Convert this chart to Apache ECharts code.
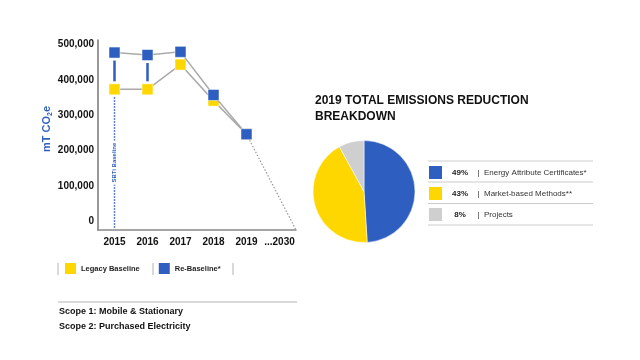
<!DOCTYPE html>
<html><head><meta charset="utf-8">
<script src="https://cdn.jsdelivr.net/npm/echarts@6/dist/echarts.min.js"></script>
<style>html,body{margin:0;padding:0;background:#fff}#c{width:640px;height:360px}</style>
</head><body><div id="c"></div>
<script>
const years = ['2015', '2016', '2017', '2018', '2019', '...2030'];
const legacyBaseline = [373000, 373000, 443000, 341000, 246000];
const reBaseline = [477000, 470000, 479000, 357000, 246000];
const projection = [[4, 246000], [5.5, -25000]];
const yTickValues = [0, 100000, 200000, 300000, 400000, 500000];
const connectedYears = [0, 1];
const pieNames = ['Energy Attribute Certificates*', 'Market-based Methods**', 'Projects'];
const pieValues = [49, 43, 8];

const BLUE = '#2e5fc0', YELLOW = '#ffd700', GREY = '#cfcfcf';
const FONT = "'Liberation Sans', Arial, Helvetica, sans-serif";
const Y_MIN = -25000, Y_MAX = 512500;

function fmt(v) { return String(v).replace(/\B(?=(\d{3})+(?!\d))/g, ','); }

const chart = echarts.init(document.getElementById('c'), null, {renderer: 'canvas'});
const pieColors = [BLUE, YELLOW, GREY];

chart.setOption({
  animation: false,
  textStyle: {fontFamily: FONT},
  title: {
    text: '2019 TOTAL EMISSIONS REDUCTION\nBREAKDOWN',
    left: 315, top: 93, padding: 0,
    textStyle: {fontSize: 12, fontWeight: 'bold', color: '#111', lineHeight: 16, fontFamily: FONT}
  },
  grid: {left: 98, right: 344, top: 40, bottom: 130},
  xAxis: {
    type: 'value', min: -0.5, max: 5.5, interval: 0.5,
    splitLine: {show: false}, axisTick: {show: false},
    axisLine: {onZero: false, lineStyle: {color: '#888', width: 1.5}},
    axisLabel: {
      margin: 7, color: '#111', fontSize: 10, fontWeight: 'bold', fontFamily: FONT,
      showMinLabel: true, showMaxLabel: true,
      formatter: v => Number.isInteger(v) && years[v] !== undefined ? years[v] : ''
    }
  },
  yAxis: {
    type: 'value', min: Y_MIN, max: Y_MAX, interval: 12500,
    splitLine: {show: false}, axisTick: {show: false},
    axisLine: {show: true, onZero: false, lineStyle: {color: '#777', width: 1.5}},
    axisLabel: {
      margin: 4, color: '#111', fontSize: 10, fontWeight: 'bold', fontFamily: FONT,
      formatter: v => yTickValues.includes(v) ? fmt(v) : ''
    },
    name: '{a|mT CO}{s|2}{a|e}',
    nameLocation: 'middle', nameRotate: 90, nameGap: 44,
    nameTextStyle: {
      color: BLUE, fontWeight: 'bold', fontSize: 11, padding: [0, 0, 0, 12],
      rich: {
        a: {color: BLUE, fontWeight: 'bold', fontSize: 11, fontFamily: FONT},
        s: {color: BLUE, fontWeight: 'bold', fontSize: 7, fontFamily: FONT, verticalAlign: 'bottom', padding: [6, 0, 0, 0]}
      }
    }
  },
  legend: [{
    data: ['Legacy Baseline', 'Re-Baseline*'],
    left: 65, top: 263, padding: 0,
    icon: 'rect', itemWidth: 11, itemHeight: 11, itemGap: 19,
    itemStyle: {borderWidth: 0},
    textStyle: {fontSize: 7.5, fontWeight: 'bold', color: '#222', fontFamily: FONT},
    selectedMode: false
  }, {
    data: pieNames,
    orient: 'vertical', left: 429, top: 166, padding: 0,
    icon: 'rect', itemWidth: 13, itemHeight: 13, itemGap: 8,
    itemStyle: {borderWidth: 0},
    selectedMode: false,
    formatter: name => {
      const i = pieNames.indexOf(name);
      return '{p|' + pieValues[i] + '%}{t|  |  ' + name + '}';
    },
    textStyle: {
      fontSize: 8, color: '#333', fontFamily: FONT,
      rich: {
        p: {width: 26, align: 'right', fontWeight: 'bold', fontSize: 8, color: '#222', fontFamily: FONT},
        t: {fontSize: 8, color: '#333', fontFamily: FONT}
      }
    }
  }],
  graphic: [
    {type: 'line', shape: {x1: 58, y1: 263, x2: 58, y2: 275}, style: {stroke: '#ccc', lineWidth: 1.5}},
    {type: 'line', shape: {x1: 153, y1: 263, x2: 153, y2: 275}, style: {stroke: '#ccc', lineWidth: 1.5}},
    {type: 'line', shape: {x1: 233, y1: 263, x2: 233, y2: 275}, style: {stroke: '#ccc', lineWidth: 1.5}},
    {type: 'line', shape: {x1: 58, y1: 302, x2: 297, y2: 302}, style: {stroke: '#ccc', lineWidth: 1.5}},
    {type: 'text', left: 59, top: 307.5, style: {text: 'Scope 1: Mobile & Stationary', font: 'bold 9px ' + FONT, fill: '#111'}},
    {type: 'text', left: 59, top: 322.5, style: {text: 'Scope 2: Purchased Electricity', font: 'bold 9px ' + FONT, fill: '#111'}},
    {type: 'line', shape: {x1: 428, y1: 161, x2: 593, y2: 161}, style: {stroke: '#ccc', lineWidth: 1}},
    {type: 'line', shape: {x1: 428, y1: 182, x2: 593, y2: 182}, style: {stroke: '#ccc', lineWidth: 1}},
    {type: 'line', shape: {x1: 428, y1: 203.5, x2: 593, y2: 203.5}, style: {stroke: '#ccc', lineWidth: 1}},
    {type: 'line', shape: {x1: 428, y1: 225, x2: 593, y2: 225}, style: {stroke: '#ccc', lineWidth: 1}}
  ],
  series: [
    {
      type: 'custom', name: 'sbti', silent: true, z: 1,
      data: [[0, legacyBaseline[0]]],
      renderItem: (params, api) => {
        const p1 = api.coord([api.value(0), api.value(1)]);
        const p2 = api.coord([api.value(0), Y_MIN]);
        const y1 = p1[1] + 8, y2 = p2[1] - 2;
        const mid = (y1 + y2) / 2;
        return {type: 'group', children: [
          {type: 'line', shape: {x1: p1[0], y1: y1, x2: p1[0], y2: y2},
           style: {stroke: BLUE, lineWidth: 1.5, lineDash: [1.5, 1.5]}},
          {type: 'text', x: p1[0], y: mid, rotation: Math.PI / 2,
           style: {text: 'SBTi Baseline', fill: BLUE, fontSize: 6, fontWeight: 'bold', fontFamily: FONT,
                   align: 'center', verticalAlign: 'middle', backgroundColor: '#fff', padding: [2, 2]}}
        ]};
      }
    },
    {
      type: 'custom', name: 'connect', silent: true, z: 1,
      data: connectedYears.map(i => [i, reBaseline[i], legacyBaseline[i]]),
      renderItem: (params, api) => {
        const p1 = api.coord([api.value(0), api.value(1)]);
        const p2 = api.coord([api.value(0), api.value(2)]);
        return {type: 'line', shape: {x1: p1[0], y1: p1[1] + 8, x2: p2[0], y2: p2[1] - 8},
                style: {stroke: BLUE, lineWidth: 2.5}};
      }
    },
    {
      type: 'line', name: 'projection', silent: true, z: 2,
      data: projection, symbol: 'none',
      lineStyle: {color: '#999', width: 1.2, type: [1.5, 1.8]}
    },
    {
      type: 'line', name: 'Legacy Baseline', z: 3,
      data: legacyBaseline.map((v, i) => [i, v]),
      symbol: 'rect', symbolSize: 11,
      itemStyle: {color: YELLOW, borderColor: '#fff', borderWidth: 0.5},
      lineStyle: {color: '#aaa', width: 1.5},
      emphasis: {disabled: true}
    },
    {
      type: 'line', name: 'Re-Baseline*', z: 4,
      data: reBaseline.map((v, i) => [i, v]),
      symbol: 'rect', symbolSize: 11,
      itemStyle: {color: BLUE, borderColor: '#fff', borderWidth: 0.5},
      lineStyle: {color: '#aaa', width: 1.5},
      emphasis: {disabled: true}
    },
    {
      type: 'pie', name: 'breakdown',
      center: [364, 191.5], radius: 51, startAngle: 90,
      label: {show: false}, labelLine: {show: false},
      itemStyle: {borderColor: '#fff', borderWidth: 0.5},
      emphasis: {disabled: true},
      data: pieNames.map((n, i) => ({name: n, value: pieValues[i], itemStyle: {color: pieColors[i]}}))
    }
  ]
});
</script>
</body></html>
